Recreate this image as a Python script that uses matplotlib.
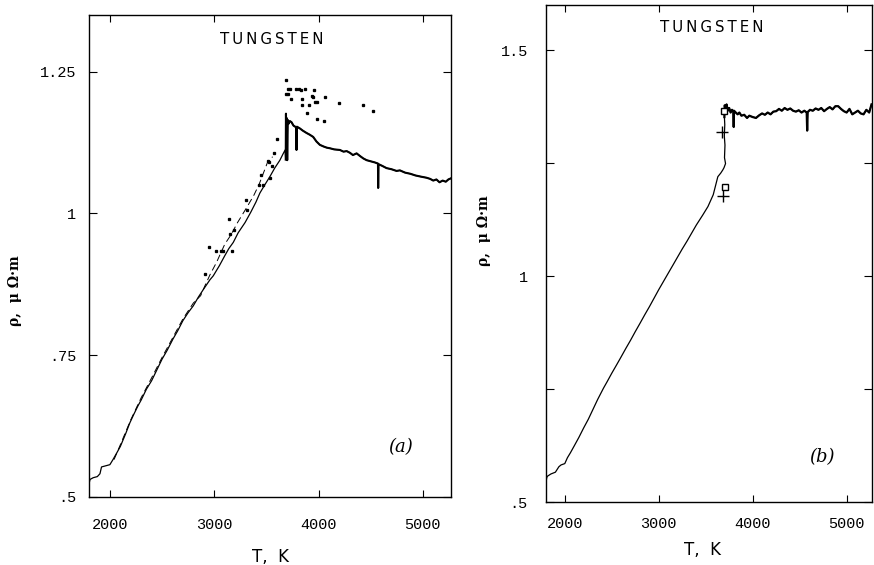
import numpy as np
import matplotlib
matplotlib.use("Agg")
import matplotlib.pyplot as plt

# ---------------- data ----------------
# panel (a) main curve
a_T = [1800, 1802, 1810, 1840, 1880, 1905, 1920, 1960, 2000, 2030,
       2070, 2100, 2150, 2192, 2230, 2270, 2300, 2350, 2400, 2450,
       2500, 2550, 2606, 2650, 2700, 2750, 2799, 2850, 2900, 2959,
       2991, 3050, 3100, 3140, 3183, 3230, 3296, 3350, 3400, 3438,
       3480, 3534, 3580, 3630, 3660, 3680, 3686, 3688, 3692, 3696,
       3700, 3705, 3712, 3725, 3741, 3760, 3785, 3789, 3793, 3821,
       3850, 3885, 3915, 3949, 3980, 4013, 4050, 4080, 4109, 4150,
       4205, 4240, 4270, 4301, 4330, 4365, 4400, 4430, 4461, 4500,
       4540, 4570, 4572, 4575, 4610, 4652, 4700, 4748, 4780, 4830,
       4880, 4930, 4980, 5036, 5070, 5100, 5130, 5160, 5190, 5220,
       5245, 5270]
a_rho = [0.500, 0.525, 0.531, 0.534, 0.536, 0.541, 0.553, 0.555, 0.557, 0.566,
         0.579, 0.589, 0.611, 0.631, 0.646, 0.661, 0.671, 0.690, 0.705, 0.724,
         0.743, 0.759, 0.779, 0.793, 0.811, 0.825, 0.837, 0.853, 0.867, 0.883,
         0.890, 0.908, 0.925, 0.938, 0.949, 0.966, 0.984, 1.002, 1.020, 1.036,
         1.049, 1.065, 1.080, 1.094, 1.105, 1.112, 1.095, 1.176, 1.120, 1.168,
         1.094, 1.165, 1.158, 1.163, 1.161, 1.155, 1.152, 1.112, 1.153, 1.150,
         1.146, 1.142, 1.139, 1.135, 1.127, 1.121, 1.118, 1.116, 1.115, 1.113,
         1.112, 1.109, 1.110, 1.107, 1.103, 1.106, 1.101, 1.097, 1.094, 1.092,
         1.090, 1.088, 1.045, 1.087, 1.084, 1.080, 1.078, 1.075, 1.076, 1.072,
         1.070, 1.067, 1.065, 1.063, 1.061, 1.058, 1.060, 1.055, 1.058, 1.056,
         1.060, 1.062]

# panel (a) second (broken) curve
a2_T = [2040, 2100, 2200, 2300, 2400, 2500, 2600, 2700, 2800, 2870, 2910,
        2960, 3023, 3102, 3160, 3224, 3310, 3380, 3432, 3515, 3560]
a2_rho = [0.566, 0.592, 0.636, 0.675, 0.710, 0.746, 0.780, 0.814, 0.842, 0.855,
          0.872, 0.892, 0.914, 0.946, 0.962, 0.984, 1.010, 1.032, 1.052, 1.092, 1.100]

# panel (a) scattered points
a_dot_T = [3684, 3709, 3728, 3785, 3811, 3834, 3875, 3957, 3684, 3703,
           3741, 3837, 3933, 3949, 3965, 3981, 3837, 3912, 4061, 4199,
           4422, 4524, 3893, 3988, 4052, 3604, 3575, 3518, 3550, 3524,
           3448, 3432, 3471, 3534, 3302, 3317, 3141, 3192, 3151, 2949,
           3016, 3061, 3087, 3166, 2911]
a_dot_rho = [1.236, 1.220, 1.219, 1.220, 1.219, 1.218, 1.219, 1.218, 1.211, 1.211,
             1.201, 1.201, 1.207, 1.206, 1.196, 1.196, 1.192, 1.192, 1.205, 1.195,
             1.191, 1.180, 1.177, 1.167, 1.163, 1.131, 1.107, 1.093, 1.083, 1.091,
             1.068, 1.050, 1.050, 1.062, 1.024, 1.007, 0.991, 0.970, 0.963, 0.941,
             0.934, 0.934, 0.934, 0.933, 0.893]

# panel (b) curve
b_T = [1800, 1803, 1808, 1815, 1852, 1900, 1937, 1960, 2000, 2028,
       2060, 2100, 2150, 2201, 2250, 2300, 2350, 2412, 2450, 2500,
       2550, 2591, 2650, 2700, 2750, 2802, 2850, 2900, 2950, 3000,
       3050, 3100, 3153, 3200, 3250, 3300, 3350, 3400, 3468, 3524,
       3580, 3629, 3660, 3682, 3695, 3711, 3700, 3705, 3698, 3703,
       3699, 3702, 3710, 3722, 3735, 3750, 3765, 3780, 3795, 3798,
       3801, 3820, 3840, 3858, 3880, 3910, 3940, 3964, 4000, 4035,
       4070, 4100, 4130, 4160, 4190, 4220, 4250, 4280, 4310, 4340,
       4370, 4400, 4430, 4460, 4490, 4520, 4550, 4575, 4580, 4585,
       4610, 4640, 4670, 4700, 4730, 4760, 4790, 4820, 4850, 4880,
       4910, 4940, 4970, 5000, 5030, 5060, 5090, 5120, 5150, 5180,
       5210, 5240, 5265]
b_rho = [0.500, 0.548, 0.554, 0.557, 0.562, 0.566, 0.578, 0.582, 0.585, 0.598,
         0.609, 0.624, 0.643, 0.664, 0.683, 0.705, 0.727, 0.752, 0.766, 0.785,
         0.803, 0.818, 0.840, 0.858, 0.877, 0.896, 0.914, 0.932, 0.951, 0.970,
         0.988, 1.006, 1.025, 1.042, 1.060, 1.077, 1.095, 1.113, 1.135, 1.154,
         1.180, 1.220, 1.228, 1.235, 1.240, 1.249, 1.262, 1.290, 1.310, 1.335,
         1.352, 1.378, 1.372, 1.380, 1.366, 1.372, 1.362, 1.368, 1.364, 1.330,
         1.366, 1.362, 1.358, 1.362, 1.355, 1.357, 1.350, 1.355, 1.352, 1.350,
         1.356, 1.360, 1.357, 1.362, 1.358, 1.364, 1.365, 1.370, 1.366, 1.372,
         1.368, 1.371, 1.366, 1.364, 1.367, 1.362, 1.366, 1.362, 1.322, 1.363,
         1.368, 1.366, 1.371, 1.368, 1.372, 1.365, 1.370, 1.374, 1.369, 1.376,
         1.376, 1.370, 1.365, 1.362, 1.370, 1.358, 1.362, 1.366, 1.360, 1.358,
         1.368, 1.362, 1.380]

# panel (b) markers
b_sq_T = [3693, 3700]
b_sq_rho = [1.365, 1.198]
b_plus_T = [3672, 3682]
b_plus_rho = [1.319, 1.178]

# ticks
x_ticks = [2000, 3000, 4000, 5000]
x_labels = ["2000", "3000", "4000", "5000"]
a_yticks = [0.5, 0.75, 1.0, 1.25]
a_ylabels = [".5", ".75", "1", "1.25"]
b_yticks = [0.5, 1.0, 1.5]
b_ylabels = [".5", "1", "1.5"]
b_yminor = [0.75, 1.25]

title_text = "T\u2009U\u2009N\u2009G\u2009S\u2009T\u2009E\u2009N"
ylabel_text = "\u03c1,  \u03bc \u03a9\u00b7m"
xlabel_text = "T,  K"

# ---------------- figure ----------------
W, H = 874, 565
fig = plt.figure(figsize=(W / 100, H / 100), dpi=100)

def px_axes(l, t, r, b):
    return fig.add_axes([l / W, 1 - b / H, (r - l) / W, (b - t) / H])

tickfont = dict(family="Liberation Mono", size=11)

axa = px_axes(89, 15, 451, 497)
axb = px_axes(546, 5, 872, 502)

for ax in (axa, axb):
    for s in ax.spines.values():
        s.set_linewidth(1.0)
        s.set_color("black")
    ax.set_xlim(1800, 5270)
    ax.set_xticks(x_ticks)
    ax.set_xticklabels(x_labels, **tickfont)
    ax.tick_params(axis="x", which="both", direction="in", top=True, length=5, width=0.8)
    ax.tick_params(axis="y", which="both", direction="in", right=True, length=6, width=0.8)

# panel (a)
axa.set_ylim(0.5, 1.35)
axa.set_yticks(a_yticks)
axa.set_yticklabels(a_ylabels, **tickfont)
axa.tick_params(axis="x", pad=15)
axa.tick_params(axis="y", pad=9)
aT = np.array(a_T); aR = np.array(a_rho)
axa.plot(aT, aR, color="black", lw=0.9)
m = aT >= 3686
axa.plot(aT[m], aR[m], color="black", lw=1.5)
axa.plot(a2_T, a2_rho, color="black", lw=0.7, ls=(0, (7, 4)))
axa.plot(a_dot_T, a_dot_rho, ls="none", marker="s", ms=1.4, color="black")
axa.text(0.505, 0.95, title_text, transform=axa.transAxes, ha="center", va="center",
         fontsize=10.8, family="DejaVu Sans")
axa.text(0.86, 0.104, "(a)", transform=axa.transAxes, ha="center", va="center",
         fontsize=13, family="DejaVu Serif", style="italic")

# panel (b)
axb.set_ylim(0.5, 1.6)
axb.set_yticks(b_yticks)
axb.set_yticklabels(b_ylabels, **tickfont)
axb.set_yticks(b_yminor, minor=True)
axb.tick_params(axis="y", which="minor", length=6, width=0.8)
axb.tick_params(axis="x", pad=11)
axb.tick_params(axis="y", pad=13)
bT = np.array(b_T); bR = np.array(b_rho)
axb.plot(bT, bR, color="black", lw=0.9)
mb = np.arange(len(bT)) >= 50
axb.plot(bT[mb], bR[mb], color="black", lw=1.6)
axb.plot(b_sq_T, b_sq_rho, ls="none", marker="s", ms=5, mfc="white", mec="black", mew=1.0)
axb.plot(b_plus_T, b_plus_rho, ls="none", marker="+", ms=8, color="black", mew=1.0)
axb.text(0.507, 0.954, title_text, transform=axb.transAxes, ha="center", va="center",
         fontsize=10.8, family="DejaVu Sans")
axb.text(0.847, 0.091, "(b)", transform=axb.transAxes, ha="center", va="center",
         fontsize=13, family="DejaVu Serif", style="italic")

# axis labels
fig.text(15 / W, 1 - 291 / H, ylabel_text, rotation=90, ha="center", va="center",
         fontsize=10, family="DejaVu Serif", weight="bold")
fig.text(484 / W, 1 - 231 / H, ylabel_text, rotation=90, ha="center", va="center",
         fontsize=10, family="DejaVu Serif", weight="bold")
fig.text(271 / W, 1 - 557 / H, xlabel_text, ha="center", va="center",
         fontsize=12, family="DejaVu Sans")
fig.text(702 / W, 1 - 550 / H, xlabel_text, ha="center", va="center",
         fontsize=12, family="DejaVu Sans")

fig.savefig("out.png", dpi=100)
